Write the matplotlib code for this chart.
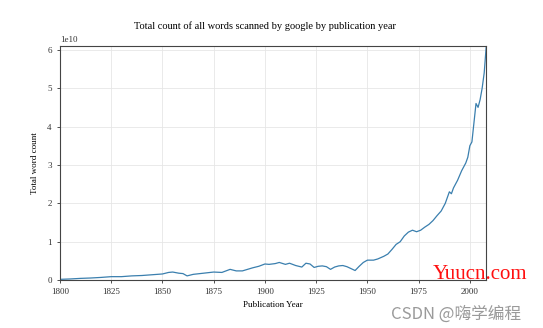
import matplotlib
matplotlib.use("Agg")
from matplotlib import pyplot as plt

# word counts, in units of 1e10
years = [1800, 1805, 1810, 1815, 1820, 1825, 1830, 1835, 1840, 1845, 1850, 1853,
         1855, 1858, 1860, 1862, 1865, 1870, 1875, 1879, 1883, 1886, 1889, 1894,
         1897, 1900, 1902, 1905, 1907, 1910, 1912, 1915, 1918, 1920, 1922, 1924,
         1926, 1928, 1930, 1932, 1934, 1936, 1938, 1940, 1942, 1944, 1946, 1948,
         1950, 1953, 1955, 1958, 1960, 1962, 1964, 1966, 1968, 1970, 1972, 1974,
         1976, 1978, 1980, 1982, 1984, 1986, 1988, 1989, 1990, 1991, 1992, 1994,
         1996, 1998, 1999, 2000, 2001, 2002, 2003, 2004, 2005, 2006, 2007, 2008]
counts = [0.02, 0.03, 0.045, 0.055, 0.07, 0.09, 0.09, 0.11, 0.12, 0.14, 0.16, 0.2,
          0.21, 0.18, 0.17, 0.11, 0.15, 0.18, 0.21, 0.2, 0.28, 0.24, 0.24, 0.32,
          0.36, 0.42, 0.41, 0.43, 0.46, 0.41, 0.44, 0.38, 0.34, 0.44, 0.42, 0.33,
          0.36, 0.37, 0.35, 0.28, 0.34, 0.37, 0.38, 0.35, 0.3, 0.25, 0.36, 0.46,
          0.52, 0.52, 0.55, 0.62, 0.68, 0.8, 0.93, 1.0, 1.15, 1.25, 1.3, 1.26,
          1.3, 1.38, 1.45, 1.55, 1.68, 1.8, 2.0, 2.15, 2.3, 2.25, 2.4, 2.6,
          2.85, 3.05, 3.2, 3.5, 3.6, 4.1, 4.6, 4.5, 4.7, 5.0, 5.4, 6.1]
counts = [c * 1e10 for c in counts]

plt.rcParams['font.family'] = ['Liberation Serif', 'Noto Sans CJK SC']

fig = plt.figure(figsize=(5.43, 3.28), dpi=100)
ax = fig.add_axes([0.1105, 0.146, 0.785, 0.714])

ax.plot(years, counts, color='#3a7fae', linewidth=0.9)
ax.set_xlim(1800, 2008)
ax.set_ylim(0, 6.1e10)
ax.set_xticks(range(1800, 2001, 25))
ax.grid(True, color='#e6e6e6', linewidth=0.6)
ax.set_axisbelow(True)

ax.tick_params(labelsize=6.5, length=2.5, width=0.6, colors='#333333')
ax.yaxis.get_offset_text().set_fontsize(6.5)
for s in ax.spines.values():
    s.set_color('#444444')
    s.set_linewidth(0.8)

ax.set_title('Total count of all words scanned by google by publication year',
             fontsize=7.5, pad=12, x=0.48)
ax.set_xlabel('Publication Year', fontsize=6.5, labelpad=3)
ax.set_ylabel('Total word count', fontsize=6.5, labelpad=6)

# watermarks present on the reference image
fig.text(0.797, 0.148, 'Yuucn.com', color='#ff1010', fontsize=15,
         family=['Liberation Serif'])
fig.text(0.72, 0.028, 'CSDN @嗨学编程', color='#9a9a9a', fontsize=12,
         family=['Noto Sans CJK SC', 'DejaVu Sans'])

fig.savefig('out.png', dpi=100)
